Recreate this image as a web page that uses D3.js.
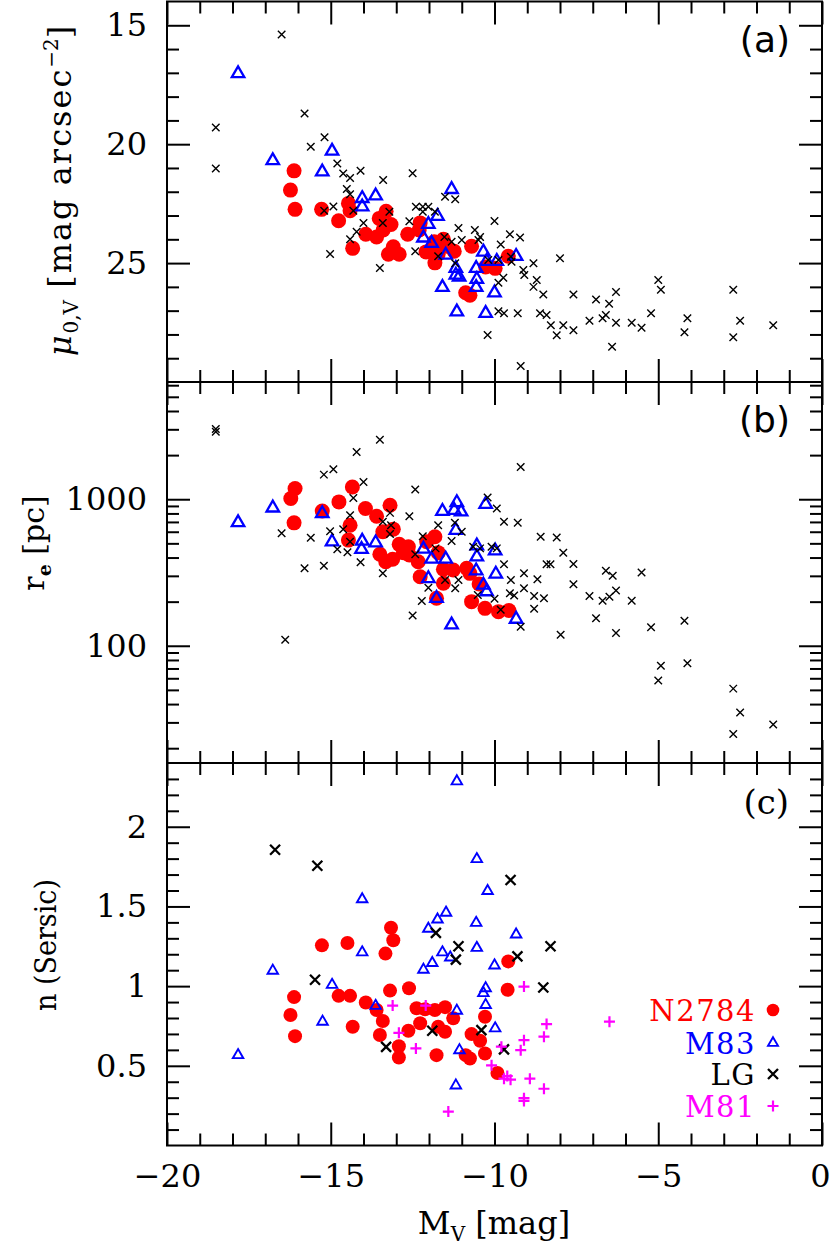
<!DOCTYPE html>
<html><head><meta charset="utf-8">
<script src="https://cdn.jsdelivr.net/npm/d3@7"></script>
<style>body{margin:0;background:#fff}</style>
</head><body>
<svg id="chart" width="831" height="1247"></svg>
<script>
// ---------------- data (M_V, value) ----------------
const n2784_mu = [[-16.12,21.12],[-16.23,21.93],[-16.09,22.74],[-15.28,22.74],[-14.76,23.22],[-14.46,22.49],[-14.41,22.80],[-14.33,24.38],[-13.93,23.79],[-13.60,23.90],[-13.52,23.12],[-13.31,22.82],[-13.40,23.61],[-13.16,23.38],[-13.24,24.63],[-13.09,24.31],[-12.91,24.63],[-12.65,23.79],[-12.27,23.31],[-12.30,23.61],[-12.09,24.53],[-11.82,24.99],[-11.84,24.10],[-11.56,24.00],[-11.46,24.29],[-11.23,24.50],[-11.72,24.63],[-10.70,24.29],[-10.88,26.25],[-10.75,26.35],[-10.27,25.16],[-9.98,25.22],[-9.58,24.71]];
const m83_mu = [[-17.83,17.03],[-16.77,20.69],[-15.26,21.16],[-14.96,20.29],[-14.04,22.28],[-14.04,22.63],[-13.63,22.17],[-11.31,21.90],[-11.74,23.03],[-12.02,23.37],[-12.17,23.94],[-11.92,24.17],[-11.49,24.66],[-11.18,25.22],[-11.18,25.50],[-11.08,25.58],[-11.59,26.02],[-11.15,27.05],[-10.56,25.22],[-10.54,25.68],[-10.56,26.02],[-10.34,24.53],[-10.24,24.92],[-9.93,24.92],[-9.34,24.71],[-10.00,26.25],[-10.27,27.11]];
const lg_mu = [[-16.50,15.39],[-18.51,19.30],[-18.51,21.02],[-15.80,18.71],[-15.61,20.11],[-15.19,19.71],[-14.80,20.81],[-14.62,21.23],[-14.41,21.42],[-14.09,21.12],[-13.40,21.51],[-12.50,21.22],[-14.51,21.88],[-14.41,22.11],[-15.20,22.80],[-14.92,22.62],[-14.31,22.80],[-14.00,23.31],[-14.21,23.68],[-14.41,24.00],[-15.02,24.62],[-13.50,25.21],[-13.41,23.31],[-13.21,22.84],[-12.60,23.24],[-12.40,22.63],[-12.19,22.63],[-12.02,22.63],[-12.19,22.84],[-11.82,22.84],[-11.51,22.21],[-11.20,22.32],[-11.53,23.90],[-11.31,24.10],[-11.10,23.52],[-11.00,24.03],[-12.42,24.50],[-11.72,24.71],[-11.20,25.01],[-10.60,23.61],[-10.44,23.90],[-10.49,24.03],[-10.00,23.23],[-10.21,28.02],[-9.81,24.22],[-9.53,23.79],[-9.22,23.92],[-10.19,24.87],[-9.88,24.87],[-9.48,24.94],[-9.50,24.73],[-9.73,25.62],[-9.88,25.83],[-9.12,25.29],[-9.09,25.50],[-8.81,25.01],[-8.71,25.71],[-8.81,26.00],[-8.51,26.32],[-8.00,24.80],[-7.59,26.32],[-6.90,26.53],[-6.29,26.22],[-6.50,26.71],[-5.00,25.71],[-4.92,26.12],[-2.71,26.12],[-9.88,27.02],[-9.71,27.11],[-9.29,27.11],[-9.20,29.33],[-8.61,27.11],[-8.41,27.18],[-8.28,27.61],[-8.10,28.03],[-7.90,27.61],[-7.59,27.82],[-7.10,27.42],[-6.70,27.32],[-6.60,27.18],[-6.29,27.51],[-6.41,28.52],[-5.81,27.51],[-5.51,27.72],[-5.22,27.11],[-4.11,27.32],[-4.20,27.91],[-2.50,27.42],[-2.71,28.12],[-1.49,27.61]];

const n2784_re = [[-16.09,1183],[-16.22,1012],[-16.12,690],[-15.26,832],[-14.75,959],[-14.34,1213],[-13.94,865],[-14.41,665],[-14.46,526],[-13.60,766],[-13.19,910],[-13.41,600],[-13.09,625],[-13.50,421],[-13.32,374],[-13.11,389],[-12.91,492],[-12.78,432],[-12.63,474],[-12.60,416],[-12.33,374],[-12.27,296],[-11.82,555],[-12.07,513],[-11.72,432],[-11.56,333],[-11.26,329],[-11.56,267],[-11.77,211],[-10.85,338],[-10.75,312],[-10.47,264],[-10.70,200],[-10.29,180],[-9.88,171],[-9.56,174]];
const m83_re = [[-17.83,693],[-16.77,873],[-15.26,800],[-14.96,513],[-14.04,518],[-14.06,455],[-13.63,505],[-11.59,828],[-11.15,951],[-11.23,841],[-11.02,820],[-11.18,615],[-10.27,925],[-12.17,457],[-11.92,391],[-11.49,391],[-12.02,288],[-11.77,211],[-11.31,139],[-10.54,481],[-10.54,405],[-10.56,325],[-10.34,260],[-10.24,234],[-9.98,445],[-9.96,309],[-9.34,152]];
const lg_re = [[-18.51,3020],[-18.51,2884],[-16.50,585],[-16.39,110],[-15.80,338],[-15.61,546],[-15.21,1472],[-14.92,1600],[-15.21,352],[-15.02,605],[-14.80,455],[-14.62,625],[-14.49,434],[-14.41,778],[-14.31,1021],[-14.21,2099],[-14.00,1312],[-14.09,371],[-13.50,2547],[-13.41,312],[-13.19,807],[-13.41,701],[-13.16,665],[-13.19,578],[-12.60,766],[-12.42,1164],[-12.42,421],[-12.19,560],[-12.22,202],[-12.50,161],[-12.02,249],[-11.80,462],[-11.72,665],[-11.51,281],[-11.31,518],[-11.21,690],[-11.20,247],[-11.10,281],[-11.00,600],[-10.51,222],[-10.21,1026],[-9.93,865],[-10.00,209],[-10.09,474],[-9.71,701],[-9.29,690],[-9.20,1660],[-10.65,474],[-10.44,462],[-9.93,462],[-9.71,360],[-9.50,281],[-9.53,228],[-9.40,220],[-9.10,312],[-9.10,247],[-9.81,176],[-9.20,135],[-8.79,219],[-8.79,179],[-8.69,284],[-8.59,555],[-8.49,211],[-8.41,360],[-8.29,360],[-8.10,548],[-7.90,432],[-7.59,361],[-7.59,263],[-7.98,119],[-7.10,219],[-6.90,154],[-6.70,203],[-6.49,216],[-6.60,325],[-6.39,301],[-6.29,238],[-6.29,122],[-5.81,203],[-5.51,316],[-5.22,134],[-4.20,148],[-5.00,58],[-4.92,73],[-4.11,76],[-2.71,51],[-2.50,35],[-2.71,25],[-1.49,29],[-14.41,513]];

const n2784_n = [[-16.12,0.931],[-16.23,0.819],[-16.09,0.686],[-15.27,1.256],[-14.76,0.939],[-14.41,0.939],[-14.49,1.271],[-14.33,0.745],[-13.93,0.897],[-13.60,0.850],[-13.41,0.781],[-13.50,0.693],[-13.16,1.366],[-13.09,1.288],[-13.33,1.204],[-13.19,0.972],[-12.92,0.623],[-12.92,0.552],[-12.63,0.720],[-12.61,0.987],[-12.38,0.861],[-12.12,0.855],[-11.82,0.850],[-11.51,0.868],[-12.27,0.767],[-11.72,0.745],[-11.51,0.714],[-11.77,0.567],[-11.26,0.798],[-10.88,0.567],[-10.75,0.546],[-10.70,0.699],[-10.44,0.657],[-10.29,0.808],[-10.29,0.577],[-9.91,0.455],[-9.58,1.155],[-9.60,0.977]];
const m83_n = [[-17.83,0.567],[-16.77,1.097],[-15.25,0.777],[-14.96,1.008],[-14.04,1.545],[-14.04,1.212],[-13.63,0.876],[-11.15,2.285],[-10.54,1.797],[-10.21,1.597],[-12.02,1.360],[-11.74,1.418],[-11.48,1.461],[-10.56,1.397],[-10.54,1.240],[-10.00,1.130],[-12.17,1.103],[-11.90,1.145],[-11.59,1.212],[-11.35,1.180],[-10.27,0.987],[-10.34,0.956],[-10.27,0.882],[-11.15,0.846],[-11.07,0.598],[-11.18,0.377],[-9.98,0.735],[-9.34,1.324]];
const lg_n = [[-16.70,1.856],[-15.41,1.755],[-15.48,1.040],[-13.31,0.619],[-11.90,0.720],[-11.79,1.334],[-11.10,1.250],[-11.18,1.166],[-10.40,0.724],[-9.51,1.666],[-9.30,1.187],[-8.29,1.250],[-8.51,0.991],[-9.71,0.603]];
const m81_n = [[-13.11,0.878],[-12.92,0.707],[-12.40,0.609],[-12.10,0.878],[-11.41,0.213],[-10.09,0.503],[-9.10,0.997],[-6.49,0.777],[-8.41,0.762],[-8.49,0.683],[-9.10,0.661],[-9.20,0.598],[-9.79,0.620],[-9.61,0.436],[-9.71,0.419],[-9.51,0.413],[-8.92,0.419],[-8.49,0.356],[-9.10,0.297],[-9.10,0.280]];

// ---------------- axes / ticks ----------------
const xDomain = [-20, 0];
const xMajor = [-20, -15, -10, -5, 0];
const xMinor = [-19,-18,-17,-16,-14,-13,-12,-11,-9,-8,-7,-6,-4,-3,-2,-1];
const muDomain = [14, 30];
const muMajor = [15, 20, 25];
const muMinor = [16,17,18,19,21,22,23,24,26,27,28,29];
const reDomain = [Math.pow(10,1.2), Math.pow(10,3.8)];
const reMajor = [100, 1000];
const reMinor = [20,30,40,50,60,70,80,90,200,300,400,500,600,700,800,900,2000,3000,4000,5000,6000];
const nDomain = [0, 2.4];
const nMajor = [0.5, 1, 1.5, 2];
const nMinor = [0.1,0.2,0.3,0.4,0.6,0.7,0.8,0.9,1.1,1.2,1.3,1.4,1.6,1.7,1.8,1.9,2.1,2.2,2.3];

const legendLabels = ["N2784", "M83", "LG", "M81"];
const colors = {n2784: "#ff0000", m83: "#0000ff", lg: "#000000", m81: "#ff00ff"};

const svg = d3.select("#chart");
const X0 = 167, X1 = 822;
const panelY = {a: [1.5, 382], b: [382, 763], c: [763, 1145.5]};
const x = d3.scaleLinear().domain(xDomain).range([X0, X1]);
const yA = d3.scaleLinear().domain(muDomain).range([panelY.a[0], panelY.a[1]]);
const yB = d3.scaleLog().domain(reDomain).range([panelY.b[1], panelY.b[0]]);
const yC = d3.scaleLinear().domain(nDomain).range([panelY.c[1], panelY.c[0]]);

const serif = "'DejaVu Serif', serif";
const sans = "'DejaVu Sans', sans-serif";
const MAJ = 23, MIN = 12;

function styleAxis(g) {
  g.select(".domain").remove();
  g.selectAll(".tick line").attr("stroke", "#000").attr("stroke-width", 2);
  g.selectAll(".tick text").attr("font-family", serif).attr("font-size", 32).attr("fill", "#000");
}

function panelFrame(y, pY, maj, min, fmt, showX) {
  let g = svg.append("g").attr("transform", `translate(${X0},0)`)
    .call(d3.axisLeft(y).tickValues(maj).tickSize(-MAJ).tickPadding(20).tickFormat(fmt));
  styleAxis(g);
  g = svg.append("g").attr("transform", `translate(${X0},0)`)
    .call(d3.axisLeft(y).tickValues(min).tickSize(-MIN).tickFormat(""));
  styleAxis(g);
  g = svg.append("g").attr("transform", `translate(${X1},0)`)
    .call(d3.axisRight(y).tickValues(maj).tickSize(-MAJ).tickFormat(""));
  styleAxis(g);
  g = svg.append("g").attr("transform", `translate(${X1},0)`)
    .call(d3.axisRight(y).tickValues(min).tickSize(-MIN).tickFormat(""));
  styleAxis(g);
  g = svg.append("g").attr("transform", `translate(0,${pY[0]})`)
    .call(d3.axisTop(x).tickValues(xMajor).tickSize(-MAJ).tickFormat(""));
  styleAxis(g);
  g = svg.append("g").attr("transform", `translate(0,${pY[0]})`)
    .call(d3.axisTop(x).tickValues(xMinor).tickSize(-MIN).tickFormat(""));
  styleAxis(g);
  g = svg.append("g").attr("transform", `translate(0,${pY[1]})`)
    .call(d3.axisBottom(x).tickValues(xMajor).tickSize(-MAJ).tickPadding(20)
      .tickFormat(showX ? d3.format("d") : ""));
  styleAxis(g);
  g.selectAll(".tick text").attr("dy", "0.68em");
  g.selectAll(".tick:last-of-type text").attr("dx", "-2");
  g = svg.append("g").attr("transform", `translate(0,${pY[1]})`)
    .call(d3.axisBottom(x).tickValues(xMinor).tickSize(-MIN).tickFormat(""));
  styleAxis(g);
  svg.append("rect").attr("x", X0).attr("y", pY[0]).attr("width", X1 - X0).attr("height", pY[1] - pY[0])
    .attr("fill", "none").attr("stroke", "#000").attr("stroke-width", 2);
}

// ---------------- markers ----------------
function circles(data, y, r) {
  svg.append("g").selectAll("circle").data(data).join("circle")
    .attr("cx", d => x(d[0])).attr("cy", d => y(d[1])).attr("r", r).attr("fill", colors.n2784);
}
function triPath(s) {
  const h = s * Math.sqrt(3) / 2;
  return `M0,${-2*h/3}L${s/2},${h/3}L${-s/2},${h/3}Z`;
}
function triangles(data, y, s, sw) {
  svg.append("g").selectAll("path").data(data).join("path")
    .attr("d", triPath(s)).attr("transform", d => `translate(${x(d[0])},${y(d[1])})`)
    .attr("fill", "none").attr("stroke", colors.m83).attr("stroke-width", sw);
}
function crossPath(s) { const h = s/2; return `M${-h},${-h}L${h},${h}M${-h},${h}L${h},${-h}`; }
function plusPath(s) { const h = s/2; return `M${-h},0L${h},0M0,${-h}L0,${h}`; }
function crosses(data, y, s, sw) {
  svg.append("g").selectAll("path").data(data).join("path")
    .attr("d", crossPath(s)).attr("transform", d => `translate(${x(d[0])},${y(d[1])})`)
    .attr("fill", "none").attr("stroke", colors.lg).attr("stroke-width", sw);
}
function pluses(data, y, s, sw) {
  svg.append("g").selectAll("path").data(data).join("path")
    .attr("d", plusPath(s)).attr("transform", d => `translate(${x(d[0])},${y(d[1])})`)
    .attr("fill", "none").attr("stroke", colors.m81).attr("stroke-width", sw);
}

// panel (a)
circles(n2784_mu, yA, 7.5);
triangles(m83_mu, yA, 12.5, 2.3);
crosses(lg_mu, yA, 7.5, 1.4);
// panel (b)
circles(n2784_re, yB, 7.5);
triangles(m83_re, yB, 12.5, 2.3);
crosses(lg_re, yB, 7.5, 1.4);
// panel (c)
circles(n2784_n, yC, 7);
triangles(m83_n, yC, 10.5, 1.9);
crosses(lg_n, yC, 10, 2.3);
pluses(m81_n, yC, 11, 2.2);

panelFrame(yA, panelY.a, muMajor, muMinor, d3.format("d"), false);
panelFrame(yB, panelY.b, reMajor, reMinor, d3.format("d"), false);
panelFrame(yC, panelY.c, nMajor, nMinor, d => String(d), true);

// panel labels
svg.append("text").attr("x", 790).attr("y", 52).attr("text-anchor", "end")
  .attr("font-family", sans).attr("font-size", 36).text("(a)");
svg.append("text").attr("x", 790).attr("y", 432).attr("text-anchor", "end")
  .attr("font-family", sans).attr("font-size", 36).text("(b)");
svg.append("text").attr("x", 789).attr("y", 814).attr("text-anchor", "end")
  .attr("font-family", serif).attr("font-size", 34).text("(c)");

// y labels
const la = svg.append("text").attr("transform", "translate(71,190) rotate(-90)")
  .attr("text-anchor", "middle").attr("font-family", serif).attr("font-size", 32)
  .attr("letter-spacing", 2);
la.append("tspan").attr("font-style", "italic").text("μ");
la.append("tspan").attr("font-size", 20).attr("dy", 7).attr("letter-spacing", 0).text("0,V");
la.append("tspan").attr("dy", -7).text(" [mag arcsec");
la.append("tspan").attr("font-size", 20).attr("dy", -13).attr("letter-spacing", 0).text("−2");
la.append("tspan").attr("dy", 13).text("]");

const lb = svg.append("text").attr("transform", "translate(44,543) rotate(-90)")
  .attr("text-anchor", "middle").attr("font-family", serif).attr("font-size", 30);
lb.append("tspan").text("r");
lb.append("tspan").attr("font-size", 19).attr("dy", 7).attr("font-weight", "bold").text("e");
lb.append("tspan").attr("dy", -7).text(" [pc]");

svg.append("text").attr("transform", "translate(56,945) rotate(-90)")
  .attr("text-anchor", "middle").attr("font-family", serif).attr("font-size", 30)
  .attr("textLength", 132).attr("lengthAdjust", "spacingAndGlyphs").text("n (Sersic)");

// x label
const lx = svg.append("text").attr("x", 494).attr("y", 1234)
  .attr("text-anchor", "middle").attr("font-family", serif).attr("font-size", 32);
lx.append("tspan").text("M");
lx.append("tspan").attr("font-size", 20).attr("dy", 7).text("V");
lx.append("tspan").attr("dy", -7).text(" [mag]");

// legend
const legY = [1010, 1043, 1074, 1106];
const legColors = [colors.n2784, colors.m83, colors.lg, colors.m81];
const legX = 773;
legendLabels.forEach((t, i) => {
  svg.append("text").attr("x", 756).attr("y", legY[i] + 11).attr("text-anchor", "end")
    .attr("font-family", serif).attr("font-size", 29).attr("letter-spacing", 1.5)
    .attr("fill", legColors[i]).text(t);
});
svg.append("circle").attr("cx", legX).attr("cy", legY[0]).attr("r", 6.3).attr("fill", colors.n2784);
svg.append("path").attr("d", triPath(10)).attr("transform", `translate(${legX},${legY[1]})`)
  .attr("fill", "none").attr("stroke", colors.m83).attr("stroke-width", 1.9);
svg.append("path").attr("d", crossPath(10)).attr("transform", `translate(${legX},${legY[2]})`)
  .attr("fill", "none").attr("stroke", colors.lg).attr("stroke-width", 2.3);
svg.append("path").attr("d", plusPath(11)).attr("transform", `translate(${legX},${legY[3]})`)
  .attr("fill", "none").attr("stroke", colors.m81).attr("stroke-width", 2.2);
</script>
</body></html>
